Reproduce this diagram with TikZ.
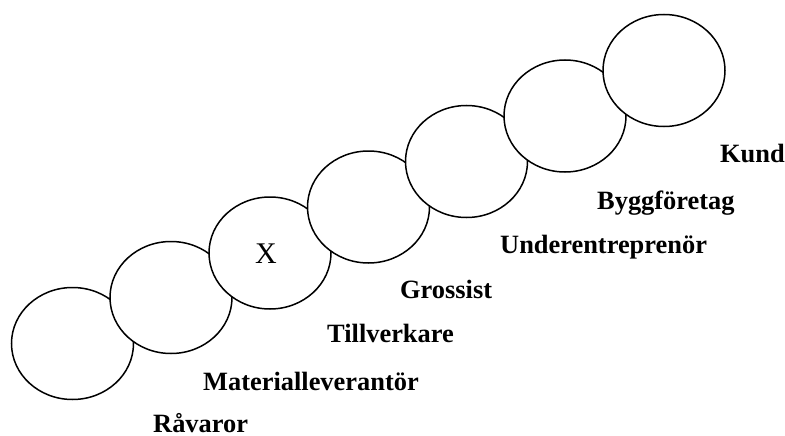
\documentclass[tikz,border=0pt]{standalone}
\usepackage{fontspec}
\setmainfont{Liberation Serif}
\usetikzlibrary{shapes.geometric}
\begin{document}
\begin{tikzpicture}[x=1pt,y=-1pt,
  link/.style={ellipse,draw=black,fill=white,line width=1.5pt,minimum width=122pt,minimum height=112pt,inner sep=0pt},
  lbl/.style={anchor=base west,inner sep=0pt,font=\fontsize{26.4}{28}\selectfont\bfseries},
  xsign/.style={anchor=base,inner sep=0pt,font=\fontsize{30}{32}\selectfont}]
\useasboundingbox (0,0) rectangle (785,436);
\node[link] (e1) at (72.5,343.5) {};
\node[link] (e2) at (171,297.5) {};
\node[link] (e3) at (270,253) {};
\node[link] (e4) at (368.5,207) {};
\node[link] (e5) at (466.5,161.5) {};
\node[link] (e6) at (565,116) {};
\node[link] (e7) at (664,70.5) {};
\node[xsign] (x) at (266,263) {X};
\node[lbl] (l1) at (153,432) {Råvaror};
\node[lbl] (l2) at (203,390) {Materialleverantör};
\node[lbl] (l3) at (327,342) {Tillverkare};
\node[lbl] (l4) at (400,298) {Grossist};
\node[lbl] (l5) at (500,253) {Underentreprenör};
\node[lbl] (l6) at (597,209) {Byggföretag};
\node[lbl] (l7) at (720,162) {Kund};
\end{tikzpicture}
\end{document}
